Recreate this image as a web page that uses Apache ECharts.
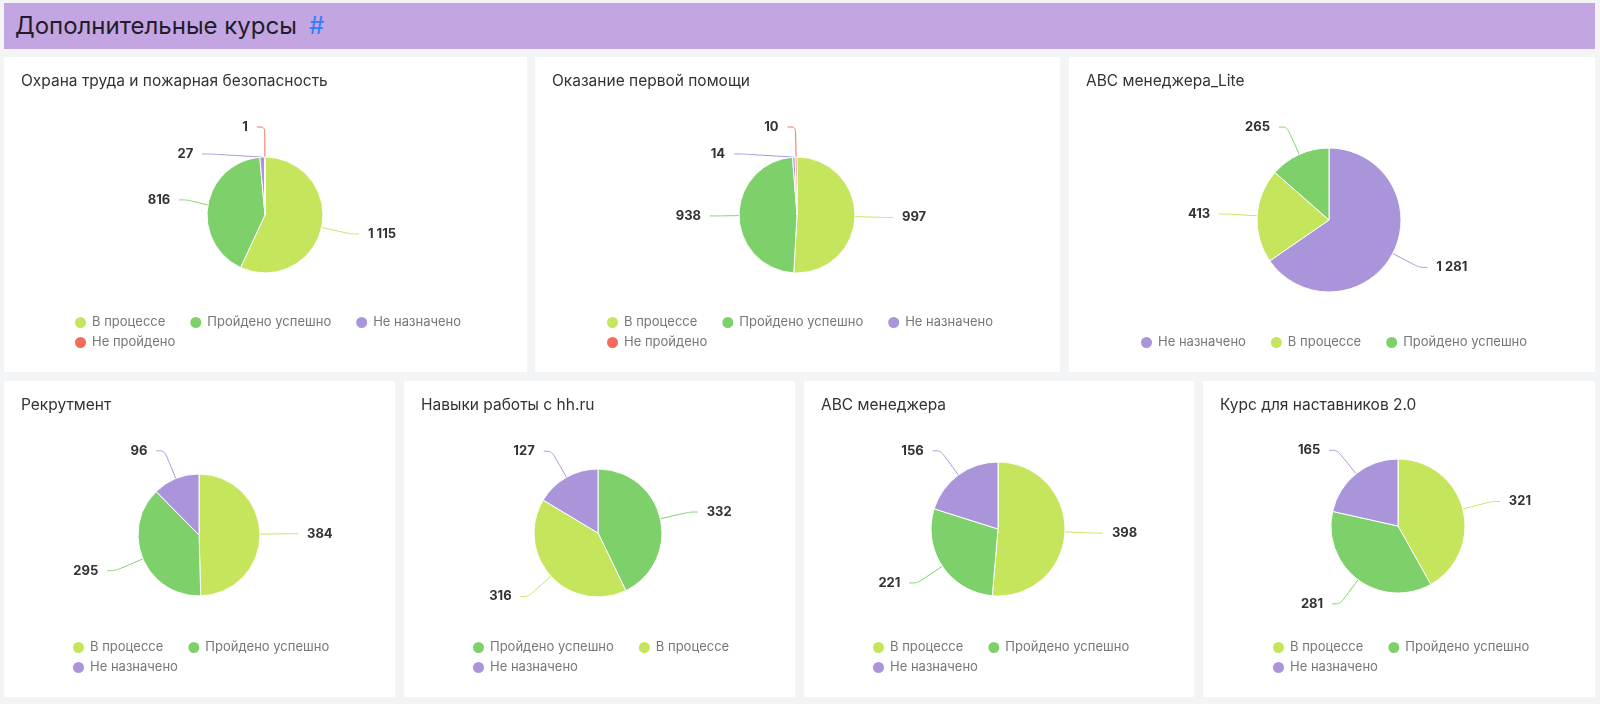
<!DOCTYPE html>
<html lang="ru">
<head>
    <meta charset="UTF-8">
    <title>Дополнительные курсы</title>
    <script src="https://cdn.jsdelivr.net/npm/echarts@6/dist/echarts.min.js"></script>
    <style>
        body {
            margin: 0;
            width: 1600px;
            height: 704px;
            overflow: hidden;
            position: relative;
            background: #f3f4f6;
            font-family: Inter, "Noto Sans", sans-serif;
        }

        .header {
            position: absolute;
            left: 4px;
            top: 3px;
            width: 1591px;
            height: 46px;
            background: #c3a5e2;
        }

        .header h1 {
            margin: 0;
            padding-left: 11px;
            font-size: 24px;
            font-weight: normal;
            line-height: 46px;
            color: #221c2b;
        }

        .header h1 span {
            color: #2b7ffc;
            margin-left: 12px;
        }

        .panel {
            position: absolute;
            background: #fff;
        }
    </style>
</head>

<body>
<div class="header"><h1>Дополнительные курсы<span>#</span></h1></div>

<script type="text/javascript">
    // заголовки карточек
    const titles = [
        'Охрана труда и пожарная безопасность',
        'Оказание первой помощи',
        'ABC менеджера_Lite',
        'Рекрутмент',
        'Навыки работы с hh.ru',
        'ABC менеджера',
        'Курс для наставников 2.0'
    ];

    // статусы и значения по каждому курсу
    const names_ot = ['В процессе', 'Пройдено успешно', 'Не назначено', 'Не пройдено'];
    const values_ot = [1115, 816, 27, 1];

    const names_fa = ['В процессе', 'Пройдено успешно', 'Не назначено', 'Не пройдено'];
    const values_fa = [997, 938, 14, 10];

    const names_abc_lite = ['Не назначено', 'В процессе', 'Пройдено успешно'];
    const values_abc_lite = [1281, 413, 265];

    const names_rec = ['В процессе', 'Пройдено успешно', 'Не назначено'];
    const values_rec = [384, 295, 96];

    const names_hh = ['Пройдено успешно', 'В процессе', 'Не назначено'];
    const values_hh = [332, 316, 127];

    const names_abc = ['В процессе', 'Пройдено успешно', 'Не назначено'];
    const values_abc = [398, 221, 156];

    const names_mentor = ['В процессе', 'Пройдено успешно', 'Не назначено'];
    const values_mentor = [321, 281, 165];

    const status_colors = {
        'В процессе': '#c5e55c',
        'Пройдено успешно': '#7ed06b',
        'Не назначено': '#aa94da',
        'Не пройдено': '#f76a5a'
    };

    // карточки: позиция, размер, центр и радиус круга
    const cards = [
        {x: 4, y: 57, w: 523, h: 315, cx: 261, cy: 158, r: 58, names: names_ot, values: values_ot},
        {x: 535, y: 57, w: 525, h: 315, cx: 262, cy: 158, r: 58, names: names_fa, values: values_fa},
        {x: 1069, y: 57, w: 526, h: 315, cx: 260, cy: 163, r: 72, names: names_abc_lite, values: values_abc_lite},
        {x: 4, y: 381, w: 391, h: 316, cx: 195, cy: 154, r: 61, names: names_rec, values: values_rec},
        {x: 404, y: 381, w: 391, h: 316, cx: 194, cy: 152, r: 64, names: names_hh, values: values_hh},
        {x: 804, y: 381, w: 390, h: 316, cx: 194, cy: 148, r: 67, names: names_abc, values: values_abc},
        {x: 1203, y: 381, w: 392, h: 316, cx: 195, cy: 145, r: 67, names: names_mentor, values: values_mentor}
    ];

    const LEGEND_FONT = '13px Inter';
    const ICON = 13, ICON_GAP = 5, ITEM_GAP = 23, ROW_PITCH = 20, LEGEND_BOTTOM = 22;

    let measure_ctx = document.createElement('canvas').getContext('2d');

    function fmt(v) {
        return String(v).replace(/\B(?=(\d{3})+(?!\d))/g, ' ');
    }

    // раскладка легенды по строкам, как перенос в легенде: строки выровнены по левому краю, блок по центру
    function legend_rows(names, max_width) {
        measure_ctx.font = LEGEND_FONT;
        let rows = [[]], widths = [0];
        names.forEach(n => {
            let w = ICON + ICON_GAP + measure_ctx.measureText(n).width;
            let r = rows.length - 1;
            let next = widths[r] === 0 ? w : widths[r] + ITEM_GAP + w;
            if (next > max_width && rows[r].length) {
                rows.push([n]);
                widths.push(w);
            } else {
                rows[r].push(n);
                widths[r] = next;
            }
        });
        return {rows: rows, width: Math.max(...widths)};
    }

    function render_card(card, title) {
        let div = document.createElement('div');
        div.className = 'panel';
        div.style.left = card.x + 'px';
        div.style.top = card.y + 'px';
        div.style.width = card.w + 'px';
        div.style.height = card.h + 'px';
        document.body.appendChild(div);

        let layout = legend_rows(card.names, card.w * 0.8);
        let legend_left = Math.round((card.w - layout.width) / 2);
        let legends = layout.rows.map((row, i) => ({
            left: legend_left,
            bottom: LEGEND_BOTTOM + ROW_PITCH * (layout.rows.length - 1 - i),
            padding: 0,
            icon: 'circle',
            itemWidth: ICON,
            itemHeight: ICON,
            itemGap: ITEM_GAP,
            textStyle: {
                fontSize: 13,
                color: '#777'
            },
            data: row
        }));

        let chart = echarts.init(div);
        let option = {
            animation: false,
            textStyle: {
                fontFamily: 'Inter'
            },
            title: {
                text: title,
                left: 17,
                top: 16,
                padding: 0,
                textStyle: {
                    fontSize: 15.5,
                    fontWeight: 'normal',
                    color: '#333'
                }
            },
            legend: legends,
            series: [
                {
                    type: 'pie',
                    center: [card.cx, card.cy],
                    radius: card.r,
                    itemStyle: {
                        borderColor: '#fff',
                        borderWidth: 1
                    },
                    label: {
                        formatter: p => fmt(p.value),
                        fontSize: 13,
                        lineHeight: 25,
                        fontWeight: 'bold',
                        color: '#333',
                        distanceToLabelLine: 9
                    },
                    labelLine: {
                        length: 30,
                        length2: 8,
                        smooth: true
                    },
                    emphasis: {
                        disabled: true
                    },
                    data: card.names.map((n, i) => ({
                        name: n,
                        value: card.values[i],
                        itemStyle: {color: status_colors[n]},
                        labelLine: {lineStyle: {color: status_colors[n]}}
                    }))
                }
            ]
        };
        chart.setOption(option);
    }

    cards.forEach((c, i) => render_card(c, titles[i]));
</script>
</body>

</html>
